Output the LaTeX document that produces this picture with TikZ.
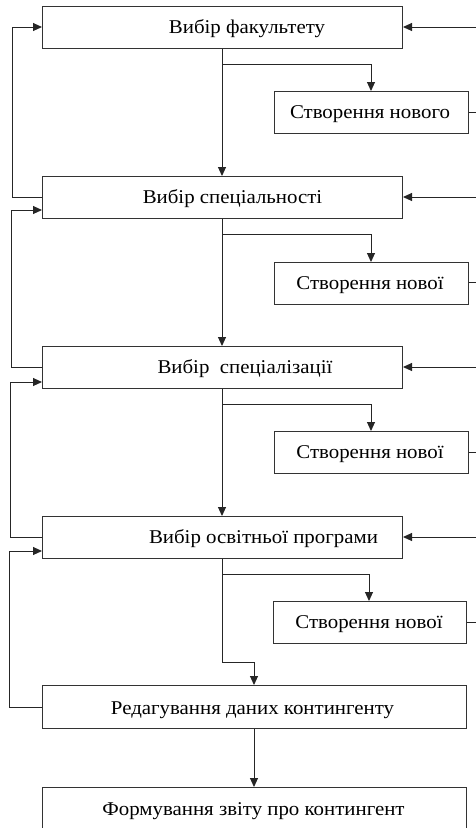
\documentclass[tikz,border=0pt]{standalone}
\usepackage{fontspec}
\setmainfont[FakeStretch=1.07]{Liberation Serif}
\usetikzlibrary{arrows.meta}
\begin{document}
\begin{tikzpicture}[x=1pt,y=-1pt,
  box/.style={draw=black!80,line width=1pt,rectangle,inner sep=0pt,anchor=north west},
  lbl/.style={inner sep=0pt,anchor=base,font=\fontsize{19.5}{22}\selectfont},
  conn/.style={draw=black!85,line width=1pt},
  arr/.style={conn,-{Triangle[length=9pt,width=8pt]}}]
\useasboundingbox (0,0) rectangle (476,828);
\clip (0,0) rectangle (476,828);
% main boxes
\node[box,minimum width=360pt,minimum height=42pt] (b1) at (42,6) {};
\node[box,minimum width=360pt,minimum height=42pt] (b2) at (42,176) {};
\node[box,minimum width=360pt,minimum height=42pt] (b3) at (42,346) {};
\node[box,minimum width=360pt,minimum height=42pt] (b4) at (42,516) {};
\node[box,minimum width=424pt,minimum height=43pt] (b5) at (42,685) {};
\node[box,minimum width=424pt,minimum height=80pt] (b6) at (42,787) {};
% small boxes
\node[box,minimum width=194pt,minimum height=42pt] (s1) at (274,91) {};
\node[box,minimum width=194pt,minimum height=42pt] (s2) at (274,262) {};
\node[box,minimum width=194pt,minimum height=42pt] (s3) at (274,431) {};
\node[box,minimum width=193pt,minimum height=42pt] (s4) at (273,601) {};
% labels (baseline positions)
\node[lbl] (t1) at (247,33.5) {Вибір факультету};
\node[lbl] (t2) at (232.5,203.5) {Вибір спеціальності};
\node[lbl] (t3) at (245,373.5) {Вибір\ \ спеціалізації};
\node[lbl] (t4) at (263.5,543.5) {Вибір освітньої програми};
\node[lbl] (t5) at (252.5,714) {Редагування даних контингенту};
\node[lbl] (t6) at (253.5,815) {Формування звіту про контингент};
\node[lbl] (u1) at (370,118.5) {Створення нового};
\node[lbl] (u2) at (370,289) {Створення нової};
\node[lbl] (u3) at (370,458.5) {Створення нової};
\node[lbl] (u4) at (369,628.5) {Створення нової};
% edge coordinates
\coordinate (e1) at (476,27);
\coordinate (e2) at (476,197);
\coordinate (e3) at (476,367);
\coordinate (e4) at (476,537);
\coordinate (f1) at (476,112);
\coordinate (f2) at (476,282);
\coordinate (f3) at (476,452);
\coordinate (f4) at (476,622);
% vertical main flow
\draw[arr] (b1.south -| 222,0) -- (b2.north -| 222,0);
\draw[arr] (b2.south -| 222,0) -- (b3.north -| 222,0);
\draw[arr] (b3.south -| 222,0) -- (b4.north -| 222,0);
\draw[arr] (b4.south -| 222,0) -- (222,662) -| (b5.north -| 254,0);
\draw[arr] (b5.south -| 254,0) -- (b6.north -| 254,0);
% branches to small boxes
\draw[arr] (222,64) -| (s1.north -| 371,0);
\draw[arr] (222,234) -| (s2.north -| 371,0);
\draw[arr] (222,404) -| (s3.north -| 371,0);
\draw[arr] (222,574) -| (s4.north -| 369,0);
% small boxes to right edge
\draw[conn] (s1.east |- f1) -- (f1);
\draw[conn] (s2.east |- f2) -- (f2);
\draw[conn] (s3.east |- f3) -- (f3);
\draw[conn] (s4.east |- f4) -- (f4);
% right edge into main boxes
\draw[arr] (e1) -- (b1.east |- e1);
\draw[arr] (e2) -- (b2.east |- e2);
\draw[arr] (e3) -- (b3.east |- e3);
\draw[arr] (e4) -- (b4.east |- e4);
% left feedback loops
\draw[arr] (b2.west |- 0,197) -- (12,197) -- (12,27) -- (b1.west |- 0,27);
\draw[arr] (b3.west |- 0,367) -- (11,367) -- (11,210) -- (b2.west |- 0,210);
\draw[arr] (b4.west |- 0,537) -- (10,537) -- (10,382) -- (b3.west |- 0,382);
\draw[arr] (b5.west |- 0,707) -- (9,707) -- (9,551) -- (b4.west |- 0,551);
\end{tikzpicture}
\end{document}
